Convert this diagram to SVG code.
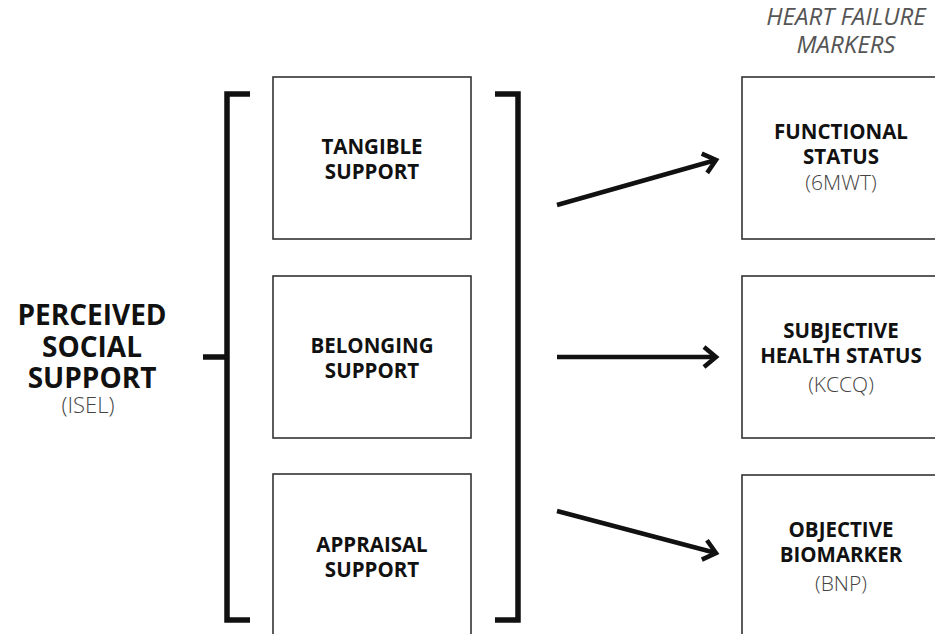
<svg xmlns="http://www.w3.org/2000/svg" width="935" height="634" viewBox="0 0 935 634">
  <style>
    .box { fill: #fff; stroke: #333; stroke-width: 1.6; }
    .lbl { font-family: "Open Sans", "Liberation Sans", sans-serif; font-weight: 700; font-size: 20.5px; fill: #111; text-anchor: middle; }
    .sub { font-family: "Open Sans", "Liberation Sans", sans-serif; font-weight: 300; font-size: 21px; fill: #444; text-anchor: middle; }
    .big { font-family: "Open Sans", "Liberation Sans", sans-serif; font-weight: 700; font-size: 28px; fill: #111; text-anchor: middle; }
    .hdr { font-family: "Open Sans", "Liberation Sans", sans-serif; font-style: italic; font-weight: 400; font-size: 24px; fill: #555; text-anchor: middle; }
    .brk { fill: none; stroke: #111; stroke-width: 5.5; stroke-linejoin: miter; }
    .arr { fill: none; stroke: #111; stroke-width: 4.5; marker-end: url(#chev); }
  </style>
  <defs>
    <marker id="chev" markerUnits="userSpaceOnUse" viewBox="-20 -15 30 30" markerWidth="30" markerHeight="30" refX="0" refY="0" orient="auto" overflow="visible">
      <path d="M-12,-10 L0,0 L-12,10" fill="none" stroke="#111" stroke-width="4.5" stroke-linejoin="miter"/>
    </marker>
  </defs>
  <rect width="935" height="634" fill="#fff"/>

  <g id="perceived-social-support">
    <text class="big" x="92" y="325">PERCEIVED</text>
    <text class="big" x="92" y="357">SOCIAL</text>
    <text class="big" x="92" y="388">SUPPORT</text>
    <text class="sub" x="88" y="413" style="font-size:22px">(ISEL)</text>
  </g>

  <g id="heart-failure-markers-header">
    <text class="hdr" x="846" y="25">HEART FAILURE</text>
    <text class="hdr" x="846" y="53">MARKERS</text>
  </g>

  <g id="tangible-support">
    <rect class="box" x="273" y="77" width="198" height="162"/>
    <text class="lbl" x="372" y="154">TANGIBLE</text>
    <text class="lbl" x="372" y="179">SUPPORT</text>
  </g>
  <g id="belonging-support">
    <rect class="box" x="273" y="276" width="198" height="162"/>
    <text class="lbl" x="372" y="353">BELONGING</text>
    <text class="lbl" x="372" y="378">SUPPORT</text>
  </g>
  <g id="appraisal-support">
    <rect class="box" x="273" y="474" width="198" height="164"/>
    <text class="lbl" x="372" y="552">APPRAISAL</text>
    <text class="lbl" x="372" y="577">SUPPORT</text>
  </g>

  <g id="functional-status">
    <rect class="box" x="742" y="77" width="200" height="162"/>
    <text class="lbl" x="841" y="139">FUNCTIONAL</text>
    <text class="lbl" x="841" y="164">STATUS</text>
    <text class="sub" x="841" y="190">(6MWT)</text>
  </g>
  <g id="subjective-health-status">
    <rect class="box" x="742" y="276" width="200" height="162"/>
    <text class="lbl" x="841" y="338">SUBJECTIVE</text>
    <text class="lbl" x="841" y="363">HEALTH STATUS</text>
    <text class="sub" x="841" y="392">(KCCQ)</text>
  </g>
  <g id="objective-biomarker">
    <rect class="box" x="742" y="475" width="200" height="164"/>
    <text class="lbl" x="841" y="537">OBJECTIVE</text>
    <text class="lbl" x="841" y="562">BIOMARKER</text>
    <text class="sub" x="841" y="591">(BNP)</text>
  </g>

  <g id="connectors">
    <path class="brk" d="M250,94 H227 V620 H250"/>
    <path class="brk" d="M203,357 H227"/>
    <path class="brk" d="M495,94 H518 V620 H495"/>
    <path class="arr" d="M557,205 L716,160"/>
    <path class="arr" d="M557,357 L716,357"/>
    <path class="arr" d="M557,511 L716,553"/>
  </g>
</svg>
